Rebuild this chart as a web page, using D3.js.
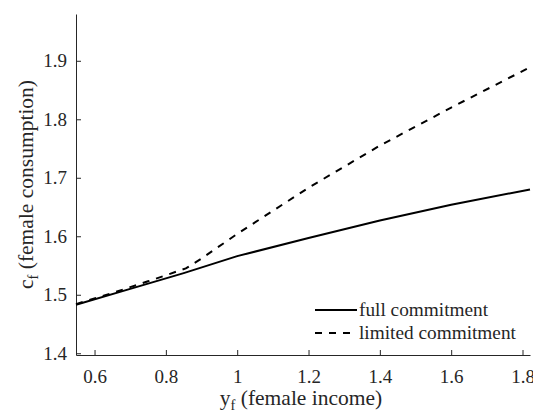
<!DOCTYPE html>
<html><head><meta charset="utf-8">
<script src="https://cdn.jsdelivr.net/npm/d3@7"></script>
<style>
html,body{margin:0;padding:0;background:#fff;}
</style></head>
<body><svg id="c" width="533" height="413"></svg>
<script>
const seriesNames = ["full commitment", "limited commitment"];
const fullX = [0.548, 0.7, 0.85, 1.0, 1.2, 1.4, 1.6, 1.821];
const fullY = [1.483, 1.510, 1.537, 1.566, 1.597, 1.627, 1.654, 1.680];
const limX = [0.548, 0.65, 0.75, 0.856, 0.9, 1.0, 1.2, 1.4, 1.6, 1.821];
const limY = [1.484, 1.503, 1.523, 1.545, 1.562, 1.604, 1.683, 1.755, 1.820, 1.889];
const xTicks = [0.6, 0.8, 1.0, 1.2, 1.4, 1.6, 1.8];
const yTicks = [1.4, 1.5, 1.6, 1.7, 1.8, 1.9];
const xDomain = [0.548, 1.821];
const yDomain = [1.397, 1.98];

const FONT = '"Liberation Serif"';
const svg = d3.select("#c");
const x = d3.scaleLinear().domain(xDomain).range([76, 530]);
const y = d3.scaleLinear().domain(yDomain).range([355, 14]);
const axisColor = "#262626";
const fmt = d => d3.format("~g")(+d.toFixed(1));

const gx = svg.append("g").attr("transform", `translate(0,${y.range()[0]})`)
  .call(d3.axisBottom(x).tickValues(xTicks).tickFormat(fmt).tickSizeInner(-5).tickSizeOuter(0).tickPadding(15));
const gy = svg.append("g").attr("transform", `translate(${x.range()[0]},0)`)
  .call(d3.axisLeft(y).tickValues(yTicks).tickFormat(d3.format(".1f")).tickSizeInner(-5).tickSizeOuter(0).tickPadding(9));
[gx, gy].forEach(g => {
  g.select(".domain").attr("stroke", axisColor).attr("stroke-width", 1);
  g.selectAll(".tick line").attr("stroke", axisColor);
  g.selectAll(".tick text").attr("font-size", 19).attr("fill", axisColor).style("font-family", FONT);
});

const line = d3.line().x(d => x(d[0])).y(d => y(d[1]));
const fullData = fullX.map((v, i) => [v, fullY[i]]);
const limData = limX.map((v, i) => [v, limY[i]]);
svg.append("path").datum(fullData).attr("d", line)
  .attr("fill", "none").attr("stroke", "#000").attr("stroke-width", 2);
svg.append("path").datum(limData).attr("d", line)
  .attr("fill", "none").attr("stroke", "#000").attr("stroke-width", 2).attr("stroke-dasharray", "7,7");

// legend
const leg = svg.append("g");
const legItems = [{name: seriesNames[0], dash: null, yy: 310}, {name: seriesNames[1], dash: "7,7", yy: 333}];
legItems.forEach(it => {
  leg.append("line").attr("x1", 315).attr("x2", 357).attr("y1", it.yy).attr("y2", it.yy)
    .attr("stroke", "#000").attr("stroke-width", 2).attr("stroke-dasharray", it.dash);
  leg.append("text").attr("x", 359).attr("y", it.yy).attr("dy", "0.33em")
    .attr("font-size", 19.3).attr("fill", axisColor).style("font-family", FONT).text(it.name);
});

// axis labels
const xl = svg.append("text").attr("x", 301).attr("y", 405).attr("text-anchor", "middle")
  .attr("font-size", 21.5).attr("fill", axisColor).style("font-family", FONT);
xl.append("tspan").text("y");
xl.append("tspan").attr("font-size", 14.5).attr("dy", 5).text("f");
xl.append("tspan").attr("dy", -5).text(" (female income)");

const yl = svg.append("text").attr("transform", "translate(33,184.5) rotate(-90)").attr("text-anchor", "middle")
  .attr("font-size", 21.5).attr("fill", axisColor).style("font-family", FONT);
yl.append("tspan").text("c");
yl.append("tspan").attr("font-size", 14.5).attr("dy", 5).text("f");
yl.append("tspan").attr("dy", -5).text(" (female consumption)");
</script></body></html>
